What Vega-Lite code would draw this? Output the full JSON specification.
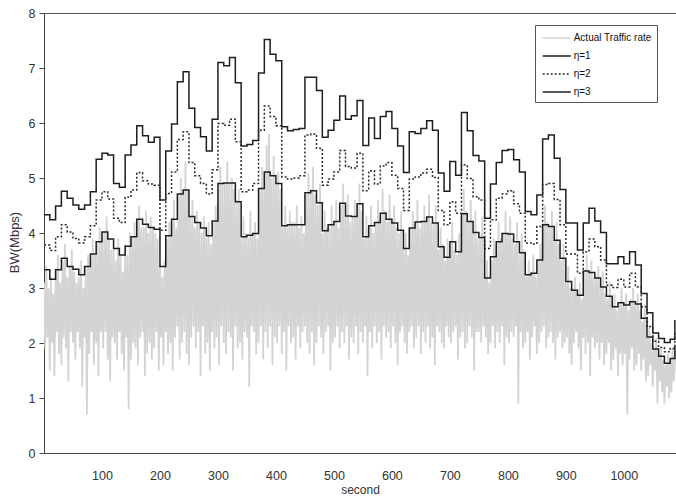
{
  "$schema": "https://vega.github.io/schema/vega-lite/v6.json",
  "width": 632,
  "height": 440,
  "autosize": {"type": "none"},
  "padding": {"left": 44, "top": 13, "right": 0, "bottom": 44},
  "background": "white",
  "config": {
    "font": "Liberation Sans, Arial, sans-serif",
    "view": {"stroke": "#555", "strokeWidth": 1},
    "axis": {"grid": false, "domainColor": "#444", "tickColor": "#444", "labelColor": "#333", "titleColor": "#333", "labelFontSize": 12.5, "titleFontSize": 13, "titleFontWeight": "normal"},
    "legend": {
      "orient": "none", "legendX": 491, "legendY": 12, "title": null,
      "strokeColor": "#555", "fillColor": "white", "padding": 5,
      "symbolType": "M-2,0H2", "symbolSize": 196, "symbolStrokeWidth": 1.5, "symbolOffset": 8.7,
      "labelFontSize": 10, "labelColor": "#111", "labelOffset": 9, "rowPadding": 5
    }
  },
  "datasets": {
    "traffic": [
      {"t":0,"v":3.1},{"t":2,"v":1.9},{"t":4,"v":3.4},{"t":6,"v":2.1},{"t":8,"v":3.0},
      {"t":10,"v":1.5},{"t":12,"v":3.2},{"t":14,"v":2.0},{"t":16,"v":2.9},{"t":18,"v":1.4},
      {"t":20,"v":3.3},{"t":22,"v":2.2},{"t":24,"v":3.6},{"t":26,"v":1.8},{"t":28,"v":3.1},
      {"t":30,"v":1.6},{"t":32,"v":3.5},{"t":34,"v":2.1},{"t":36,"v":3.8},{"t":38,"v":1.9},
      {"t":40,"v":3.2},{"t":42,"v":1.3},{"t":44,"v":3.4},{"t":46,"v":2.2},{"t":48,"v":3.7},
      {"t":50,"v":2.0},{"t":52,"v":3.3},{"t":54,"v":1.7},{"t":56,"v":3.1},{"t":58,"v":2.2},
      {"t":60,"v":3.2},{"t":62,"v":1.9},{"t":64,"v":3.5},{"t":66,"v":1.2},{"t":68,"v":3.0},
      {"t":70,"v":2.1},{"t":72,"v":3.4},{"t":74,"v":0.7},{"t":76,"v":3.6},{"t":78,"v":1.8},
      {"t":80,"v":3.5},{"t":82,"v":2.2},{"t":84,"v":3.9},{"t":86,"v":1.6},{"t":88,"v":3.6},
      {"t":90,"v":2.0},{"t":92,"v":3.8},{"t":94,"v":1.4},{"t":96,"v":4.1},{"t":98,"v":2.2},
      {"t":100,"v":3.9},{"t":102,"v":1.9},{"t":104,"v":4.0},{"t":106,"v":2.2},{"t":108,"v":4.3},
      {"t":110,"v":1.7},{"t":112,"v":3.9},{"t":114,"v":1.3},{"t":116,"v":3.7},{"t":118,"v":2.1},
      {"t":120,"v":3.7},{"t":122,"v":2.0},{"t":124,"v":3.5},{"t":126,"v":1.7},{"t":128,"v":3.9},
      {"t":130,"v":2.2},{"t":132,"v":3.6},{"t":134,"v":1.8},{"t":136,"v":3.3},{"t":138,"v":1.5},
      {"t":140,"v":3.8},{"t":142,"v":2.1},{"t":144,"v":3.6},{"t":146,"v":0.8},{"t":148,"v":4.0},
      {"t":150,"v":1.7},{"t":152,"v":3.9},{"t":154,"v":2.0},{"t":156,"v":4.2},{"t":158,"v":1.9},
      {"t":160,"v":4.2},{"t":162,"v":1.6},{"t":164,"v":4.5},{"t":166,"v":2.1},{"t":168,"v":4.1},
      {"t":170,"v":2.2},{"t":172,"v":4.1},{"t":174,"v":1.4},{"t":176,"v":4.4},{"t":178,"v":1.8},
      {"t":180,"v":4.0},{"t":182,"v":2.0},{"t":184,"v":4.3},{"t":186,"v":1.7},{"t":188,"v":4.1},
      {"t":190,"v":1.9},{"t":192,"v":4.0},{"t":194,"v":2.2},{"t":196,"v":3.9},{"t":198,"v":1.5},
      {"t":200,"v":3.4},{"t":202,"v":2.1},{"t":204,"v":3.2},{"t":206,"v":1.6},{"t":208,"v":3.5},
      {"t":210,"v":2.2},{"t":212,"v":3.9},{"t":214,"v":1.8},{"t":216,"v":4.2},{"t":218,"v":2.0},
      {"t":220,"v":4.2},{"t":222,"v":1.5},{"t":224,"v":4.6},{"t":226,"v":2.1},{"t":228,"v":4.1},
      {"t":230,"v":2.3},{"t":232,"v":4.7},{"t":234,"v":1.7},{"t":236,"v":5.0},{"t":238,"v":2.0},
      {"t":240,"v":4.7},{"t":242,"v":2.2},{"t":244,"v":5.3},{"t":246,"v":1.8},{"t":248,"v":4.8},
      {"t":250,"v":1.6},{"t":252,"v":4.3},{"t":254,"v":2.1},{"t":256,"v":4.6},{"t":258,"v":2.3},
      {"t":260,"v":4.1},{"t":262,"v":1.9},{"t":264,"v":4.4},{"t":266,"v":2.2},{"t":268,"v":4.2},
      {"t":270,"v":1.4},{"t":272,"v":4.0},{"t":274,"v":2.3},{"t":276,"v":4.3},{"t":278,"v":1.8},
      {"t":280,"v":3.9},{"t":282,"v":2.0},{"t":284,"v":4.2},{"t":286,"v":1.5},{"t":288,"v":3.8},
      {"t":290,"v":2.2},{"t":292,"v":4.2},{"t":294,"v":1.9},{"t":296,"v":4.5},{"t":298,"v":2.1},
      {"t":300,"v":4.8},{"t":302,"v":1.6},{"t":304,"v":5.2},{"t":306,"v":2.3},{"t":308,"v":4.9},
      {"t":310,"v":2.0},{"t":312,"v":4.9},{"t":314,"v":1.8},{"t":316,"v":5.3},{"t":318,"v":2.2},
      {"t":320,"v":4.9},{"t":322,"v":2.1},{"t":324,"v":5.0},{"t":326,"v":1.5},{"t":328,"v":4.8},
      {"t":330,"v":2.3},{"t":332,"v":4.6},{"t":334,"v":1.9},{"t":336,"v":4.8},{"t":338,"v":2.0},
      {"t":340,"v":3.9},{"t":342,"v":1.7},{"t":344,"v":4.3},{"t":346,"v":2.2},{"t":348,"v":4.0},
      {"t":350,"v":2.1},{"t":352,"v":3.9},{"t":354,"v":1.2},{"t":356,"v":4.4},{"t":358,"v":2.3},
      {"t":360,"v":4.0},{"t":362,"v":2.2},{"t":364,"v":4.2},{"t":366,"v":1.8},{"t":368,"v":3.9},
      {"t":370,"v":2.0},{"t":372,"v":4.8},{"t":374,"v":2.3},{"t":376,"v":5.2},{"t":378,"v":1.7},
      {"t":380,"v":5.1},{"t":382,"v":2.2},{"t":384,"v":5.6},{"t":386,"v":1.9},{"t":388,"v":5.8},
      {"t":390,"v":2.3},{"t":392,"v":5.0},{"t":394,"v":1.6},{"t":396,"v":5.4},{"t":398,"v":2.1},
      {"t":400,"v":4.9},{"t":402,"v":2.0},{"t":404,"v":5.1},{"t":406,"v":2.3},{"t":408,"v":4.8},
      {"t":410,"v":1.8},{"t":412,"v":4.1},{"t":414,"v":2.2},{"t":416,"v":4.5},{"t":418,"v":1.5},
      {"t":420,"v":4.1},{"t":422,"v":2.3},{"t":424,"v":4.4},{"t":426,"v":2.0},{"t":428,"v":4.2},
      {"t":430,"v":2.1},{"t":432,"v":4.2},{"t":434,"v":1.7},{"t":436,"v":4.5},{"t":438,"v":2.3},
      {"t":440,"v":4.1},{"t":442,"v":1.9},{"t":444,"v":4.3},{"t":446,"v":2.2},{"t":448,"v":4.0},
      {"t":450,"v":2.3},{"t":452,"v":4.7},{"t":454,"v":2.0},{"t":456,"v":5.1},{"t":458,"v":1.8},
      {"t":460,"v":4.8},{"t":462,"v":2.2},{"t":464,"v":5.2},{"t":466,"v":1.6},{"t":468,"v":4.7},
      {"t":470,"v":2.0},{"t":472,"v":4.5},{"t":474,"v":2.3},{"t":476,"v":4.9},{"t":478,"v":2.1},
      {"t":480,"v":4.0},{"t":482,"v":1.8},{"t":484,"v":4.4},{"t":486,"v":2.2},{"t":488,"v":4.1},
      {"t":490,"v":2.3},{"t":492,"v":4.1},{"t":494,"v":1.5},{"t":496,"v":4.5},{"t":498,"v":2.0},
      {"t":500,"v":4.2},{"t":502,"v":2.1},{"t":504,"v":4.6},{"t":506,"v":2.3},{"t":508,"v":4.1},
      {"t":510,"v":1.9},{"t":512,"v":4.5},{"t":514,"v":2.2},{"t":516,"v":4.9},{"t":518,"v":2.0},
      {"t":520,"v":4.3},{"t":522,"v":2.3},{"t":524,"v":4.7},{"t":526,"v":1.7},{"t":528,"v":4.2},
      {"t":530,"v":2.1},{"t":532,"v":4.3},{"t":534,"v":2.0},{"t":536,"v":4.6},{"t":538,"v":2.3},
      {"t":540,"v":4.5},{"t":542,"v":1.8},{"t":544,"v":4.9},{"t":546,"v":2.2},{"t":548,"v":4.4},
      {"t":550,"v":2.0},{"t":552,"v":3.9},{"t":554,"v":2.3},{"t":556,"v":4.3},{"t":558,"v":1.4},
      {"t":560,"v":4.1},{"t":562,"v":2.2},{"t":564,"v":4.5},{"t":566,"v":1.9},{"t":568,"v":4.0},
      {"t":570,"v":2.3},{"t":572,"v":4.2},{"t":574,"v":2.0},{"t":576,"v":4.6},{"t":578,"v":2.2},
      {"t":580,"v":4.3},{"t":582,"v":1.7},{"t":584,"v":4.8},{"t":586,"v":2.3},{"t":588,"v":4.4},
      {"t":590,"v":2.1},{"t":592,"v":4.2},{"t":594,"v":2.2},{"t":596,"v":4.7},{"t":598,"v":1.9},
      {"t":600,"v":4.2},{"t":602,"v":2.3},{"t":604,"v":4.5},{"t":606,"v":2.0},{"t":608,"v":4.1},
      {"t":610,"v":1.6},{"t":612,"v":4.0},{"t":614,"v":2.2},{"t":616,"v":4.4},{"t":618,"v":2.3},
      {"t":620,"v":3.7},{"t":622,"v":2.0},{"t":624,"v":4.0},{"t":626,"v":1.8},{"t":628,"v":3.6},
      {"t":630,"v":2.2},{"t":632,"v":4.1},{"t":634,"v":2.3},{"t":636,"v":4.4},{"t":638,"v":1.9},
      {"t":640,"v":4.2},{"t":642,"v":2.1},{"t":644,"v":4.6},{"t":646,"v":2.3},{"t":648,"v":4.1},
      {"t":650,"v":1.8},{"t":652,"v":4.2},{"t":654,"v":2.2},{"t":656,"v":4.5},{"t":658,"v":2.0},
      {"t":660,"v":4.3},{"t":662,"v":2.3},{"t":664,"v":4.7},{"t":666,"v":1.9},{"t":668,"v":4.2},
      {"t":670,"v":2.1},{"t":672,"v":4.2},{"t":674,"v":1.6},{"t":676,"v":4.5},{"t":678,"v":2.3},
      {"t":680,"v":3.7},{"t":682,"v":2.2},{"t":684,"v":4.1},{"t":686,"v":2.0},{"t":688,"v":3.8},
      {"t":690,"v":1.9},{"t":692,"v":3.5},{"t":694,"v":2.3},{"t":696,"v":3.9},{"t":698,"v":2.1},
      {"t":700,"v":3.8},{"t":702,"v":2.0},{"t":704,"v":4.2},{"t":706,"v":2.2},{"t":708,"v":3.7},
      {"t":710,"v":2.3},{"t":712,"v":3.6},{"t":714,"v":1.7},{"t":716,"v":4.0},{"t":718,"v":2.1},
      {"t":720,"v":4.3},{"t":722,"v":2.2},{"t":724,"v":4.8},{"t":726,"v":1.9},{"t":728,"v":4.4},
      {"t":730,"v":2.0},{"t":732,"v":4.2},{"t":734,"v":2.3},{"t":736,"v":4.6},{"t":738,"v":2.1},
      {"t":740,"v":4.0},{"t":742,"v":1.5},{"t":744,"v":4.4},{"t":746,"v":2.2},{"t":748,"v":3.9},
      {"t":750,"v":2.2},{"t":752,"v":3.9},{"t":754,"v":2.0},{"t":756,"v":4.3},{"t":758,"v":2.3},
      {"t":760,"v":3.2},{"t":762,"v":2.1},{"t":764,"v":3.5},{"t":766,"v":1.8},{"t":768,"v":3.1},
      {"t":770,"v":2.0},{"t":772,"v":3.5},{"t":774,"v":2.3},{"t":776,"v":3.9},{"t":778,"v":1.9},
      {"t":780,"v":3.8},{"t":782,"v":2.2},{"t":784,"v":4.2},{"t":786,"v":2.0},{"t":788,"v":3.9},
      {"t":790,"v":2.3},{"t":792,"v":4.0},{"t":794,"v":1.6},{"t":796,"v":4.4},{"t":798,"v":2.1},
      {"t":800,"v":4.0},{"t":802,"v":2.0},{"t":804,"v":4.3},{"t":806,"v":2.2},{"t":808,"v":3.9},
      {"t":810,"v":2.1},{"t":812,"v":3.8},{"t":814,"v":2.3},{"t":816,"v":4.2},{"t":818,"v":0.9},
      {"t":820,"v":3.6},{"t":822,"v":2.2},{"t":824,"v":4.0},{"t":826,"v":1.9},{"t":828,"v":3.7},
      {"t":830,"v":2.0},{"t":832,"v":3.2},{"t":834,"v":2.2},{"t":836,"v":3.5},{"t":838,"v":1.7},
      {"t":840,"v":3.3},{"t":842,"v":2.1},{"t":844,"v":3.6},{"t":846,"v":2.3},{"t":848,"v":3.2},
      {"t":850,"v":1.8},{"t":852,"v":3.5},{"t":854,"v":2.0},{"t":856,"v":3.8},{"t":858,"v":2.2},
      {"t":860,"v":4.1},{"t":862,"v":2.3},{"t":864,"v":4.5},{"t":866,"v":1.9},{"t":868,"v":4.2},
      {"t":870,"v":2.1},{"t":872,"v":4.1},{"t":874,"v":2.2},{"t":876,"v":4.4},{"t":878,"v":2.0},
      {"t":880,"v":3.9},{"t":882,"v":1.7},{"t":884,"v":4.2},{"t":886,"v":2.1},{"t":888,"v":3.8},
      {"t":890,"v":2.2},{"t":892,"v":3.5},{"t":894,"v":1.9},{"t":896,"v":3.8},{"t":898,"v":2.0},
      {"t":900,"v":3.1},{"t":902,"v":2.1},{"t":904,"v":3.4},{"t":906,"v":1.8},{"t":908,"v":3.0},
      {"t":910,"v":1.6},{"t":912,"v":3.0},{"t":914,"v":2.0},{"t":916,"v":3.2},{"t":918,"v":2.2},
      {"t":920,"v":2.9},{"t":922,"v":1.9},{"t":924,"v":3.1},{"t":926,"v":1.5},{"t":928,"v":2.8},
      {"t":930,"v":2.1},{"t":932,"v":3.3},{"t":934,"v":1.8},{"t":936,"v":3.6},{"t":938,"v":2.0},
      {"t":940,"v":3.3},{"t":942,"v":1.4},{"t":944,"v":3.5},{"t":946,"v":2.1},{"t":948,"v":3.2},
      {"t":950,"v":1.9},{"t":952,"v":3.2},{"t":954,"v":2.0},{"t":956,"v":3.4},{"t":958,"v":1.7},
      {"t":960,"v":3.0},{"t":962,"v":2.0},{"t":964,"v":3.3},{"t":966,"v":1.6},{"t":968,"v":2.9},
      {"t":970,"v":1.8},{"t":972,"v":2.8},{"t":974,"v":2.0},{"t":976,"v":3.1},{"t":978,"v":1.5},
      {"t":980,"v":2.7},{"t":982,"v":1.7},{"t":984,"v":2.9},{"t":986,"v":1.9},{"t":988,"v":2.6},
      {"t":990,"v":1.4},{"t":992,"v":2.7},{"t":994,"v":1.8},{"t":996,"v":3.0},{"t":998,"v":1.6},
      {"t":1000,"v":2.7},{"t":1002,"v":1.8},{"t":1004,"v":2.9},{"t":1006,"v":0.7},{"t":1008,"v":2.6},
      {"t":1010,"v":1.7},{"t":1012,"v":2.8},{"t":1014,"v":1.9},{"t":1016,"v":3.0},{"t":1018,"v":1.5},
      {"t":1020,"v":2.7},{"t":1022,"v":1.6},{"t":1024,"v":2.9},{"t":1026,"v":1.8},{"t":1028,"v":2.6},
      {"t":1030,"v":1.5},{"t":1032,"v":2.4},{"t":1034,"v":1.7},{"t":1036,"v":2.7},{"t":1038,"v":1.3},
      {"t":1040,"v":2.1},{"t":1042,"v":1.4},{"t":1044,"v":2.3},{"t":1046,"v":1.6},{"t":1048,"v":2.0},
      {"t":1050,"v":1.2},{"t":1052,"v":1.9},{"t":1054,"v":1.5},{"t":1056,"v":2.1},{"t":1058,"v":0.9},
      {"t":1060,"v":1.8},{"t":1062,"v":1.3},{"t":1064,"v":1.9},{"t":1066,"v":1.1},{"t":1068,"v":1.7},
      {"t":1070,"v":0.9},{"t":1072,"v":1.6},{"t":1074,"v":1.2},{"t":1076,"v":1.8},{"t":1078,"v":1.0},
      {"t":1080,"v":1.7},{"t":1082,"v":1.1},{"t":1084,"v":1.9},{"t":1086,"v":1.3},{"t":1088,"v":1.6},
      {"t":1090,"v":1.9}
    ],
    "bw": [
      {"t":0,"a":4.33,"b":3.78,"c":3.33},{"t":10,"a":4.24,"b":3.68,"c":3.16},{"t":20,"a":4.49,"b":3.93,"c":3.33},
      {"t":30,"a":4.76,"b":4.15,"c":3.54},{"t":40,"a":4.63,"b":4.02,"c":3.39},{"t":50,"a":4.51,"b":3.90,"c":3.34},
      {"t":60,"a":4.43,"b":3.82,"c":3.24},{"t":70,"a":4.51,"b":3.93,"c":3.39},{"t":80,"a":4.75,"b":4.13,"c":3.62},
      {"t":90,"a":5.34,"b":4.60,"c":3.84},{"t":100,"a":5.45,"b":4.75,"c":4.02},{"t":110,"a":5.42,"b":4.62,"c":3.89},
      {"t":120,"a":4.90,"b":4.27,"c":3.72},{"t":130,"a":4.83,"b":4.19,"c":3.60},{"t":140,"a":5.42,"b":4.65,"c":3.76},
      {"t":150,"a":5.60,"b":4.78,"c":3.93},{"t":160,"a":5.95,"b":5.10,"c":4.25},{"t":170,"a":5.77,"b":4.95,"c":4.16},
      {"t":180,"a":5.65,"b":4.89,"c":4.10},{"t":190,"a":5.74,"b":4.87,"c":4.07},{"t":200,"a":4.60,"b":4.05,"c":3.39},
      {"t":210,"a":5.49,"b":4.72,"c":3.95},{"t":220,"a":5.98,"b":5.11,"c":4.25},{"t":230,"a":6.75,"b":5.70,"c":4.71},
      {"t":240,"a":6.93,"b":5.84,"c":4.78},{"t":250,"a":6.27,"b":5.28,"c":4.30},{"t":260,"a":5.92,"b":5.04,"c":4.19},
      {"t":270,"a":5.75,"b":4.90,"c":4.09},{"t":280,"a":5.49,"b":4.71,"c":3.95},{"t":290,"a":6.07,"b":5.15,"c":4.22},
      {"t":300,"a":7.10,"b":5.99,"c":4.90},{"t":310,"a":7.04,"b":5.96,"c":4.91},{"t":320,"a":7.19,"b":6.07,"c":4.91},
      {"t":330,"a":6.73,"b":5.66,"c":4.57},{"t":340,"a":5.58,"b":4.75,"c":3.93},{"t":350,"a":5.61,"b":4.78,"c":3.96},
      {"t":360,"a":5.68,"b":4.90,"c":3.99},{"t":370,"a":6.91,"b":5.87,"c":4.81},{"t":380,"a":7.52,"b":6.31,"c":5.11},
      {"t":390,"a":7.25,"b":6.12,"c":5.04},{"t":400,"a":7.13,"b":5.95,"c":4.90},{"t":410,"a":5.93,"b":5.02,"c":4.13},
      {"t":420,"a":5.86,"b":4.98,"c":4.15},{"t":430,"a":5.88,"b":5.00,"c":4.15},{"t":440,"a":5.90,"b":5.04,"c":4.15},
      {"t":450,"a":6.83,"b":5.78,"c":4.73},{"t":460,"a":6.83,"b":5.80,"c":4.77},{"t":470,"a":6.59,"b":5.54,"c":4.55},
      {"t":480,"a":5.74,"b":4.87,"c":4.04},{"t":490,"a":5.87,"b":4.98,"c":4.15},{"t":500,"a":6.05,"b":5.11,"c":4.21},
      {"t":510,"a":6.49,"b":5.50,"c":4.54},{"t":520,"a":6.07,"b":5.21,"c":4.31},{"t":530,"a":6.13,"b":5.18,"c":4.30},
      {"t":540,"a":6.41,"b":5.45,"c":4.53},{"t":550,"a":5.59,"b":4.77,"c":3.93},{"t":560,"a":6.09,"b":5.13,"c":4.13},
      {"t":570,"a":5.72,"b":4.89,"c":4.19},{"t":580,"a":6.12,"b":5.22,"c":4.36},{"t":590,"a":6.21,"b":5.28,"c":4.25},
      {"t":600,"a":5.90,"b":5.05,"c":4.18},{"t":610,"a":5.58,"b":4.81,"c":4.05},{"t":620,"a":5.10,"b":4.41,"c":3.72},
      {"t":630,"a":5.84,"b":4.98,"c":4.09},{"t":640,"a":5.81,"b":5.02,"c":4.20},{"t":650,"a":5.90,"b":5.09,"c":4.21},
      {"t":660,"a":6.04,"b":5.16,"c":4.29},{"t":670,"a":5.87,"b":5.01,"c":4.18},{"t":680,"a":5.09,"b":4.41,"c":3.75},
      {"t":690,"a":4.76,"b":4.15,"c":3.56},{"t":700,"a":5.30,"b":4.57,"c":3.84},{"t":710,"a":5.05,"b":4.36,"c":3.66},
      {"t":720,"a":6.19,"b":5.24,"c":4.35},{"t":730,"a":5.86,"b":4.99,"c":4.21},{"t":740,"a":5.41,"b":4.66,"c":4.01},
      {"t":750,"a":5.31,"b":4.60,"c":3.92},{"t":760,"a":4.27,"b":3.72,"c":3.18},{"t":770,"a":4.89,"b":4.24,"c":3.57},
      {"t":780,"a":5.28,"b":4.63,"c":3.84},{"t":790,"a":5.50,"b":4.71,"c":3.99},{"t":800,"a":5.52,"b":4.77,"c":3.98},
      {"t":810,"a":5.33,"b":4.53,"c":3.84},{"t":820,"a":5.11,"b":4.36,"c":3.64},{"t":830,"a":4.39,"b":3.82,"c":3.24},
      {"t":840,"a":4.33,"b":3.80,"c":3.27},{"t":850,"a":4.69,"b":4.12,"c":3.51},{"t":860,"a":5.71,"b":4.88,"c":4.15},
      {"t":870,"a":5.78,"b":4.90,"c":4.12},{"t":880,"a":5.36,"b":4.61,"c":3.87},{"t":890,"a":4.79,"b":4.15,"c":3.54},
      {"t":900,"a":4.18,"b":3.62,"c":3.12},{"t":910,"a":4.18,"b":3.62,"c":2.96},{"t":920,"a":3.69,"b":3.27,"c":2.87},
      {"t":930,"a":4.18,"b":3.66,"c":3.31},{"t":940,"a":4.45,"b":3.89,"c":3.28},{"t":950,"a":4.22,"b":3.75,"c":3.18},
      {"t":960,"a":4.01,"b":3.51,"c":3.02},{"t":970,"a":3.44,"b":3.05,"c":2.85},{"t":980,"a":3.44,"b":3.01,"c":2.66},
      {"t":990,"a":3.57,"b":3.16,"c":2.73},{"t":1000,"a":3.44,"b":3.02,"c":2.69},{"t":1010,"a":3.66,"b":3.27,"c":2.75},
      {"t":1020,"a":3.42,"b":3.02,"c":2.71},{"t":1030,"a":2.90,"b":2.66,"c":2.45},{"t":1040,"a":2.55,"b":2.30,"c":2.11},
      {"t":1050,"a":2.18,"b":2.03,"c":1.89},{"t":1060,"a":2.08,"b":1.92,"c":1.76},{"t":1070,"a":2.01,"b":1.84,"c":1.63},
      {"t":1080,"a":2.07,"b":1.90,"c":1.72},{"t":1088,"a":2.42,"b":2.20,"c":1.95}
    ]
  },
  "encoding": {
    "x": {
      "field": "t", "type": "quantitative",
      "scale": {"domain": [0, 1090], "nice": false, "zero": false},
      "axis": {"values": [100, 200, 300, 400, 500, 600, 700, 800, 900, 1000], "format": "d", "ticks": false, "labelPadding": 16, "title": "second", "titleFontSize": 12, "titlePadding": 3, "labelFlush": false}
    },
    "y": {
      "field": "v", "type": "quantitative",
      "scale": {"domain": [0, 8], "nice": false},
      "axis": {"values": [0, 1, 2, 3, 4, 5, 6, 7, 8], "tickSize": 5, "labelPadding": 4, "title": "BW(Mbps)", "titleX": -23, "titleY": 229}
    }
  },
  "layer": [
    {
      "data": {"name": "traffic"},
      "mark": {"type": "line", "strokeWidth": 1.8, "clip": true},
      "encoding": {
        "color": {"datum": "Actual Traffic rate", "type": "nominal", "scale": {"domain": ["Actual Traffic rate", "η=1", "η=2", "η=3"], "range": ["#d3d3d3", "#1e1e1e", "#2a2a2a", "#1e1e1e"]}},
        "strokeDash": {"datum": "Actual Traffic rate", "type": "nominal", "scale": {"domain": ["Actual Traffic rate", "η=1", "η=2", "η=3"], "range": [[1, 0], [1, 0], [2, 2], [1, 0]]}}
      }
    },
    {
      "data": {"name": "bw"},
      "transform": [
        {"fold": ["a", "b", "c"], "as": ["key", "v"]},
        {"lookup": "key", "from": {"data": {"values": [{"key": "a", "series": "η=1"}, {"key": "b", "series": "η=2"}, {"key": "c", "series": "η=3"}]}, "key": "key", "fields": ["series"]}}
      ],
      "mark": {"type": "line", "interpolate": "step-after", "strokeWidth": 1.5, "clip": true},
      "encoding": {
        "color": {"field": "series", "type": "nominal"},
        "strokeDash": {"field": "series", "type": "nominal"}
      }
    }
  ]
}
